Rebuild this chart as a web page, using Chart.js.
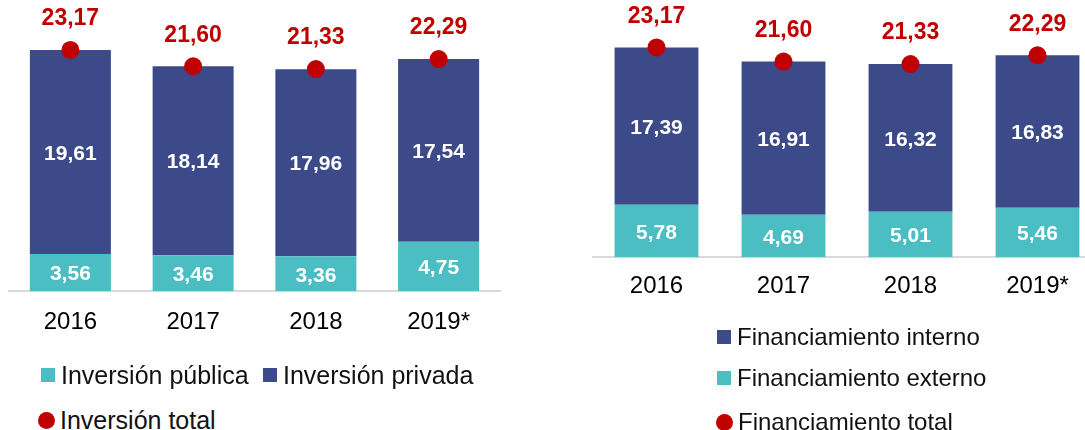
<!DOCTYPE html>
<html>
<head>
<meta charset="utf-8">
<script src="https://cdn.jsdelivr.net/npm/chart.js@4.4.1/dist/chart.umd.min.js"></script>
<style>
  html, body { margin: 0; padding: 0; background: #fff; overflow: hidden; width: 1085px; height: 430px; }
  body { position: relative; font-family: "Liberation Sans", Arial, sans-serif; }
  canvas { position: absolute; top: 0; }
  .item { position: absolute; height: 30px; line-height: 30px; display: flex; align-items: center; color: #111; white-space: nowrap; }
  .mark { display: inline-block; margin-right: 6px; flex: none; }
</style>
</head>
<body>
<canvas id="inversion" width="520" height="365" style="left:0"></canvas>
<canvas id="financiamiento" width="540" height="324" style="left:580px"></canvas>
<div id="legends"></div>
<script>
const years = ['2016', '2017', '2018', '2019*']

// Inversión (left)
const invPublica = [3.56, 3.46, 3.36, 4.75]
const invPrivada = [19.61, 18.14, 17.96, 17.54]
const invTotal = [23.17, 21.60, 21.33, 22.29]

// Financiamiento (right)
const finExterno = [5.78, 4.69, 5.01, 5.46]
const finInterno = [17.39, 16.91, 16.32, 16.83]
const finTotal = [23.17, 21.60, 21.33, 22.29]

const NAVY = '#3c4a89'
const TEAL = '#4bbec4'
const RED = '#c00000'
const FONT = "'Liberation Sans', Arial, sans-serif"

const fmt = v => v.toFixed(2).replace('.', ',')

// draws the numbers inside the bars and above the red dots
const valueLabels = {
  id: 'valueLabels',
  afterDatasetsDraw(chart) {
    const ctx = chart.ctx
    chart.data.datasets.forEach((ds, i) => {
      const meta = chart.getDatasetMeta(i)
      meta.data.forEach((el, j) => {
        ctx.save()
        ctx.textAlign = 'center'
        ctx.textBaseline = 'middle'
        if (meta.type === 'bar') {
          ctx.fillStyle = '#fff'
          ctx.font = `bold 21px ${FONT}`
          ctx.fillText(fmt(ds.data[j]), el.x, (el.y + el.base) / 2 + 2)
        } else {
          ctx.fillStyle = RED
          ctx.font = `bold 23px ${FONT}`
          ctx.fillText(fmt(ds.data[j]), el.x, el.y - 31)
        }
        ctx.restore()
      })
    })
  }
}

function makeChart(id, bottomData, bottomColor, topData, topColor, totalData, opts) {
  return new Chart(document.getElementById(id), {
    type: 'bar',
    data: {
      labels: years,
      datasets: [
        {
          type: 'line',
          data: totalData,
          showLine: false,
          pointRadius: 9,
          pointHoverRadius: 9,
          pointBackgroundColor: RED,
          pointBorderWidth: 0,
          order: 0
        },
        { data: bottomData, backgroundColor: bottomColor, order: 1 },
        { data: topData, backgroundColor: topColor, order: 1 }
      ]
    },
    options: {
      responsive: false,
      animation: false,
      events: [],
      layout: { padding: opts.padding },
      datasets: { bar: { categoryPercentage: 1, barPercentage: 0.66 } },
      plugins: { legend: { display: false }, tooltip: { enabled: false } },
      scales: {
        x: {
          stacked: true,
          grid: { display: false, drawTicks: false },
          border: { display: true, color: '#d9d9d9', width: 2 },
          ticks: { color: '#000', padding: opts.tickPad, font: { family: FONT, size: 24 } }
        },
        y: { stacked: true, display: false, min: 0, max: opts.max }
      }
    },
    plugins: [valueLabels]
  })
}

makeChart('inversion', invPublica, TEAL, invPrivada, NAVY, invTotal,
  { padding: { left: 9, right: 20, top: 10, bottom: 11 }, tickPad: 17, max: 27 })

makeChart('financiamiento', finExterno, TEAL, finInterno, NAVY, finTotal,
  { padding: { left: 13, right: 19, top: 10, bottom: 8 }, tickPad: 15, max: 27.3 })

// legends
const legendItems = [
  { text: 'Inversión pública', color: TEAL, shape: 'sq', x: 41, y: 375, size: 25 },
  { text: 'Inversión privada', color: NAVY, shape: 'sq', x: 263, y: 375, size: 25 },
  { text: 'Inversión total', color: RED, shape: 'dot', x: 38, y: 420, size: 25 },
  { text: 'Financiamiento interno', color: NAVY, shape: 'sq', x: 717, y: 337, size: 24 },
  { text: 'Financiamiento externo', color: TEAL, shape: 'sq', x: 717, y: 378, size: 24 },
  { text: 'Financiamiento total', color: RED, shape: 'dot', x: 716, y: 422, size: 24 }
]

const box = document.getElementById('legends')
legendItems.forEach(it => {
  const d = document.createElement('div')
  d.className = 'item'
  d.style.left = it.x + 'px'
  d.style.top = (it.y - 15) + 'px'
  d.style.fontSize = it.size + 'px'
  const m = document.createElement('span')
  m.className = 'mark'
  const size = it.shape === 'dot' ? 17 : 14
  m.style.width = size + 'px'
  m.style.height = size + 'px'
  m.style.background = it.color
  if (it.shape === 'dot') m.style.borderRadius = '50%'
  if (it.shape === 'dot') m.style.marginRight = '5px'
  d.appendChild(m)
  d.appendChild(document.createTextNode(it.text))
  box.appendChild(d)
})
</script>
</body>
</html>
